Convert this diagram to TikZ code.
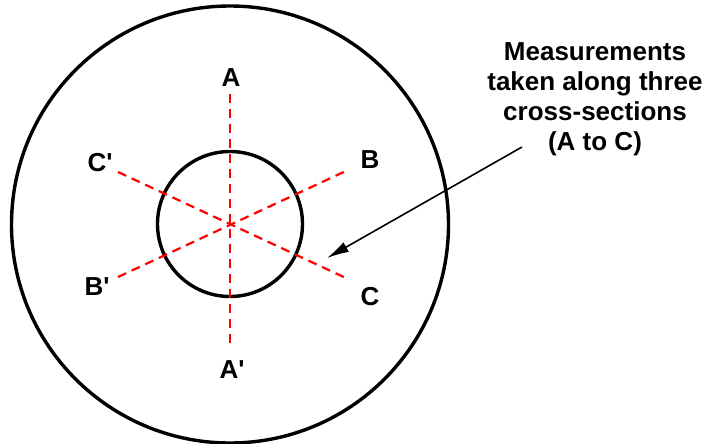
\documentclass[tikz,border=0pt]{standalone}
\usepackage{fontspec}
\setmainfont{Liberation Sans}
\usetikzlibrary{arrows.meta}
\begin{document}
\begin{tikzpicture}[x=1pt,y=-1pt,
  ring/.style={draw=black,line width=3.4pt,circle,inner sep=0pt},
  cut/.style={draw=red,line width=2.2pt,dash pattern=on 9pt off 6pt},
  lbl/.style={font=\fontsize{26}{30.3}\selectfont\bfseries,inner sep=0pt},
  pointer/.style={draw=black,line width=1.6pt,-{Latex[length=22pt,width=11pt]}}]
\useasboundingbox (0,0) rectangle (709,444);
\node[ring,minimum size=437pt] (outer) at (230,224.5) {};
\node[ring,minimum size=145pt] (inner) at (230,224) {};
% cross-section lines
\coordinate (a1) at (230,94);
\coordinate (a2) at (230,348);
\coordinate (b1) at (348,170);
\coordinate (b2) at (118,277);
\coordinate (c1) at (348,279);
\coordinate (c2) at (118,172);
\draw[cut] (a1) -- (a2);
\draw[cut] (b2) -- (b1);
\draw[cut] (c2) -- (c1);
% labels
\node[lbl] (lA) at (231,77.5) {A};
\node[lbl] (lAp) at (232,370) {A\textquotesingle};
\node[lbl] (lB) at (370,160) {B};
\node[lbl] (lBp) at (97,287) {B\textquotesingle};
\node[lbl] (lC) at (370,297) {C};
\node[lbl] (lCp) at (100,163) {C\textquotesingle};
% note
\node[lbl,align=center,anchor=north] (note) at (595,42) {Measurements\\taken along three\\cross-sections\\(A to C)};
\coordinate (ps) at (522,147);
\coordinate (pe) at (327,258);
\draw[pointer] (ps) -- (pe);
\end{tikzpicture}
\end{document}
